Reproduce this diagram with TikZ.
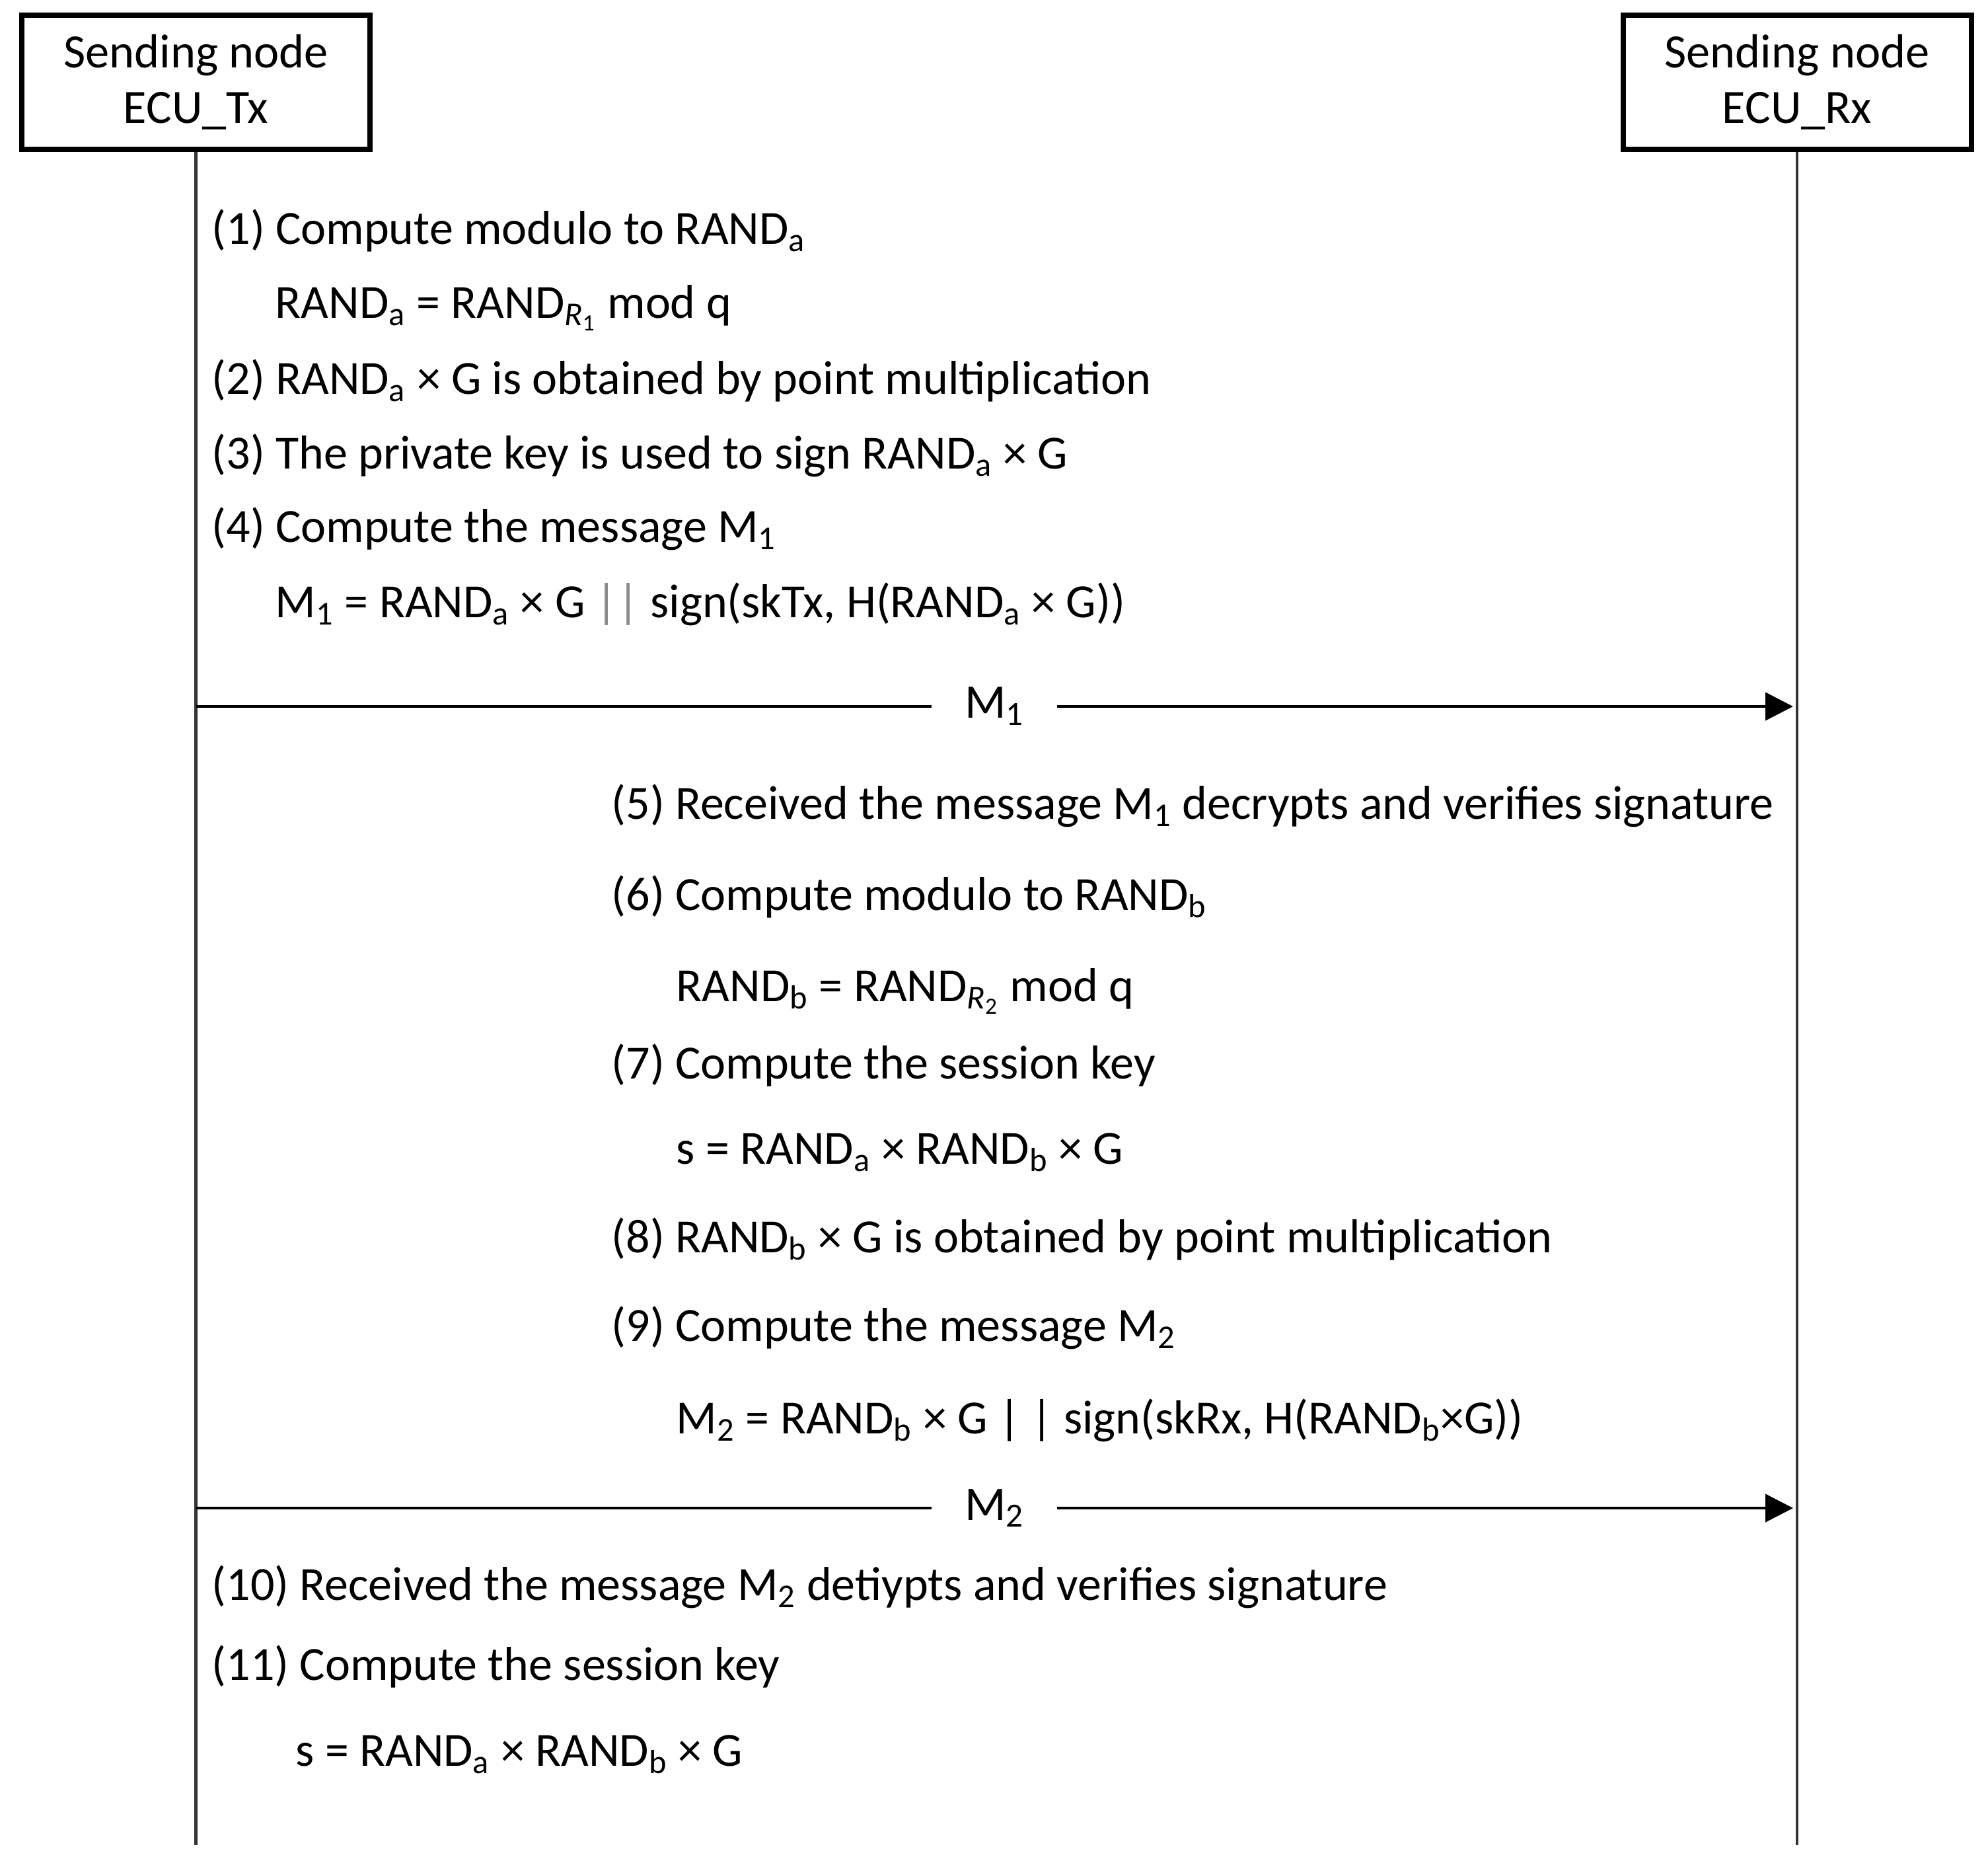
\documentclass[tikz,border=0pt]{standalone}
\usepackage{fontspec}
\setmainfont{Carlito}
\usetikzlibrary{arrows.meta,positioning}

\newcommand{\sbs}[1]{\textsubscript{#1}}

\begin{document}
\begin{tikzpicture}[
  ecu node/.style={draw,line width=2.3pt,minimum width=5.27cm,minimum height=2.03cm,
    align=center,font=\fontsize{20.6}{24}\selectfont},
  step text/.style={anchor=west,inner sep=0pt,text height=0.75em,text depth=0.25em,
    yshift=-0.16cm,font=\fontsize{20.5}{24}\selectfont},
  life line/.style={line width=1.2pt,draw=black!80},
  msg/.style={line width=1.3pt,-{Triangle[length=0.42cm,width=0.42cm]}},
  msg label/.style={fill=white,inner xsep=0.5cm,font=\fontsize{20.8}{24}\selectfont}]

\useasboundingbox (0,0) rectangle (30.09,-28.09);

% the two ECUs and their lifelines
\node[ecu node] (tx) at (2.965,-1.245) {Sending node\\ECU\_Tx};
\node[ecu node] (rx) at (27.20,-1.245) {Sending node\\ECU\_Rx};
\coordinate (tx end) at (2.965,-27.92);
\coordinate (rx end) at (27.20,-27.92);
\draw[life line] (tx) -- (tx end);
\draw[life line] (rx) -- (rx end);

% steps on the sending side
\node[step text] (step1) at (3.20,-3.45) {(1) Compute modulo to RAND\sbs{a}};
\node[step text] (eq1)   at (4.16,-4.57) {RAND\sbs{a} = RAND\sbs{\textit{R}\sbs{1}} mod q};
\node[step text] (step2) at (3.20,-5.72) {(2) RAND\sbs{a} × G is obtained by point multiplication};
\node[step text] (step3) at (3.20,-6.85) {(3) The private key is used to sign RAND\sbs{a} × G};
\node[step text] (step4) at (3.20,-7.96) {(4) Compute the message M\sbs{1}};
\node[step text] (eq4)   at (4.16,-9.10) {M\sbs{1} = RAND\sbs{a} × G {\color{black!45}||} sign(skTx, H(RAND\sbs{a} × G))};

% message M1
\coordinate (m1 from) at (2.965,-10.69);
\coordinate (m1 to) at (27.14,-10.69);
\draw[msg] (m1 from) -- node[msg label] (m1) {M\sbs{1}} (m1 to);

% steps on the receiving side
\node[step text] (step5) at (9.25,-12.15) {(5) Received the message M\sbs{1} decrypts and verifies signature};
\node[step text] (step6) at (9.25,-13.53) {(6) Compute modulo to RAND\sbs{b}};
\node[step text] (eq6)   at (10.23,-14.91) {RAND\sbs{b} = RAND\sbs{\textit{R}\sbs{2}} mod q};
\node[step text] (step7) at (9.25,-16.08) {(7) Compute the session key};
\node[step text] (eq7)   at (10.23,-17.37) {s = RAND\sbs{a} × RAND\sbs{b} × G};
\node[step text] (step8) at (9.25,-18.71) {(8) RAND\sbs{b} × G is obtained by point multiplication};
\node[step text] (step9) at (9.25,-20.05) {(9) Compute the message M\sbs{2}};
\node[step text] (eq9)   at (10.23,-21.45) {M\sbs{2} = RAND\sbs{b} × G | | sign(skRx, H(RAND\sbs{b}×G))};

% message M2
\coordinate (m2 from) at (2.965,-22.82);
\coordinate (m2 to) at (27.14,-22.82);
\draw[msg] (m2 from) -- node[msg label] (m2) {M\sbs{2}} (m2 to);

% back on the sending side
\node[step text] (step10) at (3.20,-23.97) {(10) Received the message M\sbs{2} detiypts and verifies signature};
\node[step text] (step11) at (3.20,-25.18) {(11) Compute the session key};
\node[step text] (eq11)   at (4.47,-26.48) {s = RAND\sbs{a} × RAND\sbs{b} × G};
\end{tikzpicture}
\end{document}
